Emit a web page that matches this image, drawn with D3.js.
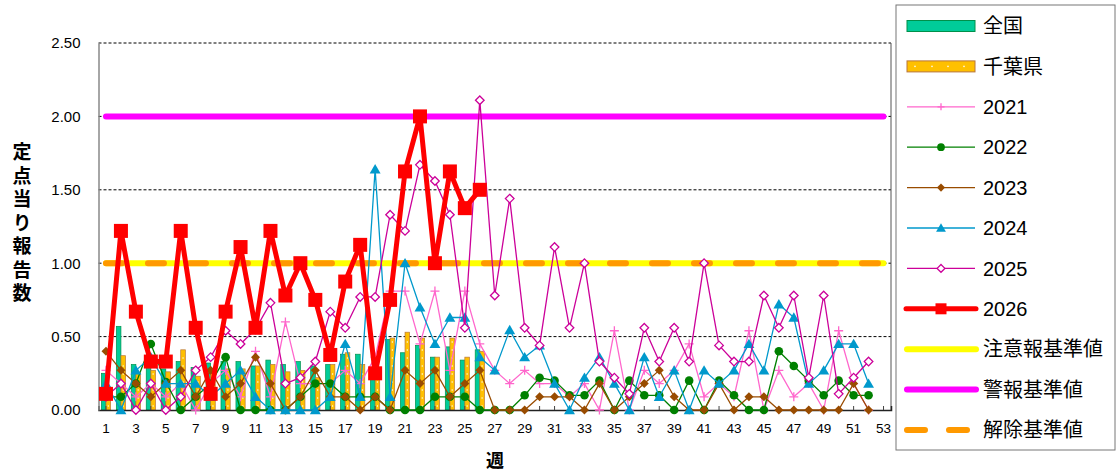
<!DOCTYPE html>
<html><head><meta charset="utf-8">
<script src="https://cdn.jsdelivr.net/npm/d3@7"></script>
<style>
body{margin:0;background:#fff;}
svg{display:block;font-family:"Liberation Sans",Arial,"Noto Sans CJK JP",sans-serif;}
</style></head>
<body>
<svg id="chart" width="1117" height="472"></svg>
<script>
const weeks = [1,2,3,4,5,6,7,8,9,10,11,12,13,14,15,16,17,18,19,20,21,22,23,24,25,26,27,28,29,30,31,32,33,34,35,36,37,38,39,40,41,42,43,44,45,46,47,48,49,50,51,52,53];
const yTicks = [0,0.5,1.0,1.5,2.0,2.5];

const national = [0.25,0.57,0.31,0.30,0.28,0.33,0.29,0.32,0.33,0.33,0.30,0.34,0.31,0.33,0.30,0.31,0.38,0.38,0.27,0.48,0.39,0.44,0.36,0.43,0.34,0.41];
const chiba    = [0.15,0.37,0.25,0.27,0.26,0.41,0.23,0.25,0.28,0.28,0.30,0.31,0.26,0.27,0.22,0.31,0.39,0.31,0.25,0.49,0.53,0.49,0.36,0.49,0.36,0.40];

const s2021 = [0.27,0.18,0.09,0.18,0.09,0.18,0,0.18,0.27,0.09,0.40,0.09,0.60,0.18,0.18,0.18,0.27,0.18,0.36,0.81,0.81,0.45,0.81,0.27,0.81,0.45,0.27,0.18,0.27,0.18,0.18,0.09,0.18,0,0.54,0,0.27,0.18,0.27,0.45,0.09,0.18,0.09,0.54,0,0.27,0.09,0.18,0,0.54,0.18,0];
const s2022 = [0.09,0.09,0.18,0.45,0.19,0,0.09,0.18,0.36,0,0,0,0,0.09,0.18,0.18,0.09,0.09,0.09,0,0,0,0.09,0.09,0.09,0,0,0,0.10,0.22,0.20,0.10,0.10,0.20,0,0.20,0.10,0.10,0,0.20,0,0.20,0.10,0,0,0.40,0.30,0.20,0.10,0.20,0.10,0.10];
const s2023 = [0.40,0.27,0.18,0.09,0.18,0.27,0.09,0.27,0.09,0.18,0.36,0.18,0,0.09,0.27,0.09,0.09,0,0.09,0,0.27,0.18,0.27,0.09,0.18,0.27,0,0,0,0.09,0.09,0.09,0,0.18,0,0.09,0.18,0.27,0.09,0,0,0.18,0,0.09,0.09,0,0,0,0,0,0.18,0];
const s2024 = [0.18,0,0.27,0.36,0.18,0.18,0.18,0.09,0.18,0.27,0.09,0,0,0,0,0.09,0.45,0.09,1.64,0.09,1.0,0.70,0.45,0.63,0.63,0.36,0.27,0.545,0.36,0.44,0.18,0,0.22,0.36,0.18,0,0.36,0.09,0.27,0,0.27,0.18,0.27,0.45,0.27,0.72,0.63,0.18,0.27,0.45,0.45,0.18];
const s2025 = [0.09,0.18,0,0.18,0,0.09,0.27,0.36,0.54,0.45,0.55,0.73,0.18,0.22,0.33,0.67,0.56,0.77,0.77,1.33,1.22,1.67,1.56,1.33,0.56,2.11,0.78,1.44,0.56,0.44,1.11,0.56,1.0,0.33,0.22,0.11,0.56,0.33,0.56,0.33,1.0,0.44,0.33,0.33,0.78,0.56,0.78,0.22,0.78,0.11,0.22,0.33];
const s2026 = [0.11,1.22,0.67,0.33,0.33,1.22,0.56,0.11,0.67,1.11,0.56,1.22,0.78,1.0,0.75,0.375,0.875,1.125,0.25,0.75,1.625,2.0,1.0,1.625,1.375,1.5];

const cautionLevel = 1.0, alarmLevel = 2.0, releaseLevel = 1.0;

const legendLabels = ["全国","千葉県","2021","2022","2023","2024","2025","2026","注意報基準値","警報基準値","解除基準値"];
const yTitle = "定点当り報告数";
const xTitle = "週";

const svg = d3.select("#chart");
const L = 98.5, R = 891, T = 43, B = 410;
const x = d3.scaleBand().domain(weeks).range([L, R]).padding(0);
const y = d3.scaleLinear().domain([0, 2.5]).range([B, T]);
const cx = w => x(w) + x.bandwidth()/2;

const col = {
  nat:"#00CC99", natS:"#00904A", chi:"#FFC000", chiS:"#B8763A",
  c2021:"#FF66CC", c2022:"#008000", c2023:"#994C00", c2024:"#0099CC",
  c2025:"#CC0099", c2026:"#FF0000", yel:"#FFFF00", mag:"#FF00FF", ora:"#FF9900"
};

// gridlines
svg.append("g").selectAll("line").data(yTicks.filter(d=>d>0)).join("line")
  .attr("x1", L).attr("x2", R).attr("y1", d=>y(d)).attr("y2", d=>y(d))
  .attr("stroke","#000").attr("stroke-width",1).attr("stroke-dasharray","3,2");

// right border
svg.append("line").attr("x1",R).attr("x2",R).attr("y1",T).attr("y2",B).attr("stroke","#555").attr("stroke-width",1);

// bars
const bw = 4.6;
svg.append("g").selectAll("rect").data(national).join("rect")
  .attr("x",(d,i)=>cx(weeks[i]) - bw).attr("width",bw)
  .attr("y",d=>y(d)).attr("height",d=>B - y(d))
  .attr("fill",col.nat).attr("stroke",col.natS).attr("stroke-width",0.7);
const cg = svg.append("g");
chiba.forEach((d,i)=>{
  const x0 = cx(weeks[i]);
  cg.append("rect").attr("x",x0).attr("width",bw).attr("y",y(d)).attr("height",B-y(d))
    .attr("fill",col.chi).attr("stroke",col.chiS).attr("stroke-width",0.7);
  for(let yy = B - 4; yy > y(d) + 3; yy -= 8){
    cg.append("rect").attr("x",x0+bw/2-0.6).attr("y",yy-0.6).attr("width",1.2).attr("height",1.2).attr("fill","#fff");
  }
});

// axes
const xAxis = d3.axisBottom(x).tickSize(-4).tickPadding(13).tickFormat(d => d % 2 === 1 ? d : "");
const gx = svg.append("g").attr("transform",`translate(0,${B})`).call(xAxis);
gx.select(".domain").attr("stroke","#222").attr("stroke-width",1.5);
gx.selectAll(".tick line").attr("stroke","#444");
gx.selectAll("text").attr("font-size",13.5).attr("fill","#000").attr("font-family","Liberation Sans, Arial");

const yAxis = d3.axisLeft(y).tickValues(yTicks).tickSize(0).tickPadding(18).tickFormat(d3.format(".2f"));
const gy = svg.append("g").attr("transform",`translate(${L},0)`).call(yAxis);
gy.select(".domain").attr("stroke","#888").attr("stroke-width",1.5);
gy.selectAll("text").attr("font-size",15).attr("fill","#000").attr("font-family","Liberation Sans, Arial");

// threshold lines
const first = cx(weeks[0]), last = cx(weeks[weeks.length-1]);
svg.append("line").attr("x1",first).attr("x2",last).attr("y1",y(cautionLevel)).attr("y2",y(cautionLevel))
  .attr("stroke",col.yel).attr("stroke-width",6).attr("stroke-linecap","round");
svg.append("line").attr("x1",first).attr("x2",last).attr("y1",y(alarmLevel)).attr("y2",y(alarmLevel))
  .attr("stroke",col.mag).attr("stroke-width",6).attr("stroke-linecap","round");
svg.append("line").attr("x1",first).attr("x2",last).attr("y1",y(releaseLevel)).attr("y2",y(releaseLevel))
  .attr("stroke",col.ora).attr("stroke-width",6).attr("stroke-linecap","round").attr("stroke-dasharray","16,26");

// marker helpers
function marker(g, type, color, sz){
  if(type==="plus") return g.append("path").attr("d",`M${-sz},0H${sz}M0,${-sz}V${sz}`).attr("stroke",color).attr("stroke-width",1.3).attr("fill","none");
  if(type==="circle") return g.append("circle").attr("r",sz).attr("fill",color);
  if(type==="diamond") return g.append("path").attr("d",`M0,${-sz}L${sz},0L0,${sz}L${-sz},0Z`).attr("fill",color);
  if(type==="odiamond") return g.append("path").attr("d",`M0,${-sz}L${sz},0L0,${sz}L${-sz},0Z`).attr("fill","#fff").attr("stroke",color).attr("stroke-width",1.3);
  if(type==="triangle") return g.append("path").attr("d",`M0,${-sz}L${sz*1.05},${sz*0.8}L${-sz*1.05},${sz*0.8}Z`).attr("fill",color);
  if(type==="square") return g.append("rect").attr("x",-sz).attr("y",-sz).attr("width",2*sz).attr("height",2*sz).attr("fill",color);
}

const series = [
  {data:s2021, color:col.c2021, w:1.3, m:"plus", s:4.5},
  {data:s2022, color:col.c2022, w:1.3, m:"circle", s:4.3},
  {data:s2023, color:col.c2023, w:1.3, m:"diamond", s:4.5},
  {data:s2024, color:col.c2024, w:1.3, m:"triangle", s:5.2},
  {data:s2025, color:col.c2025, w:1.3, m:"odiamond", s:4.3},
  {data:s2026, color:col.c2026, w:5, m:"square", s:7}
];
const line = d3.line().x((d,i)=>cx(weeks[i])).y(d=>y(d));
series.forEach(s=>{
  const g = svg.append("g");
  g.append("path").datum(s.data).attr("d",line).attr("fill","none")
    .attr("stroke",s.color).attr("stroke-width",s.w).attr("stroke-linejoin","round");
  s.data.forEach((d,i)=>{
    const mg = g.append("g").attr("transform",`translate(${cx(weeks[i])},${y(d)})`);
    marker(mg, s.m, s.color, s.s);
  });
});

// axis titles
svg.append("text").attr("x",22).attr("y",225).attr("text-anchor","middle")
  .style("writing-mode","vertical-rl").style("letter-spacing","4.5px")
  .attr("font-size",19).attr("font-weight","bold").attr("font-family","Noto Sans CJK JP").text(yTitle);
svg.append("text").attr("x",495).attr("y",467).attr("text-anchor","middle")
  .attr("font-size",18).attr("font-weight","bold").attr("font-family","Noto Sans CJK JP").text(xTitle);

// legend
const lg = svg.append("g");
lg.append("rect").attr("x",896).attr("y",5).attr("width",219).attr("height",445)
  .attr("fill","#fff").attr("stroke","#777").attr("stroke-width",1);
const ly = i => 26 + i*40.4;
const sx0 = 907, sx1 = 975, smid = 941;
legendLabels.forEach((lab,i)=>{
  const yy = ly(i);
  const g = lg.append("g");
  if(i===0){
    g.append("rect").attr("x",sx0).attr("y",yy-5.5).attr("width",sx1-sx0).attr("height",11)
      .attr("fill",col.nat).attr("stroke",col.natS).attr("stroke-width",1);
  } else if(i===1){
    g.append("rect").attr("x",sx0).attr("y",yy-5.5).attr("width",sx1-sx0).attr("height",11)
      .attr("fill",col.chi).attr("stroke",col.chiS).attr("stroke-width",1);
    [915,932,948,964].forEach(dx=>g.append("rect").attr("x",dx-0.7).attr("y",yy-0.7).attr("width",1.4).attr("height",1.4).attr("fill","#fff"));
  } else if(i>=2 && i<=7){
    const s = series[i-2];
    const x0 = i===7 ? sx0-1 : sx0, x1 = i===7 ? sx1+1 : sx1;
    g.append("line").attr("x1",x0).attr("x2",x1).attr("y1",yy).attr("y2",yy)
      .attr("stroke",s.color).attr("stroke-width",s.w).attr("stroke-linecap", i===7?"round":"butt");
    const mg = g.append("g").attr("transform",`translate(${smid},${yy})`);
    marker(mg, s.m, s.color, i===7 ? 5.5 : (s.m==="plus"?3.5:s.s*0.9));
  } else {
    const c = i===8 ? col.yel : i===9 ? col.mag : col.ora;
    const ln = g.append("line").attr("x1",sx0).attr("x2",sx1+1).attr("y1",yy).attr("y2",yy)
      .attr("stroke",c).attr("stroke-width",6).attr("stroke-linecap","round");
    if(i===10) ln.attr("stroke-dasharray","18,24");
  }
  g.append("text").attr("x",983).attr("y",yy).attr("dy","0.36em")
    .attr("font-size",20).attr("fill","#000").text(lab);
});
</script>
</body></html>
